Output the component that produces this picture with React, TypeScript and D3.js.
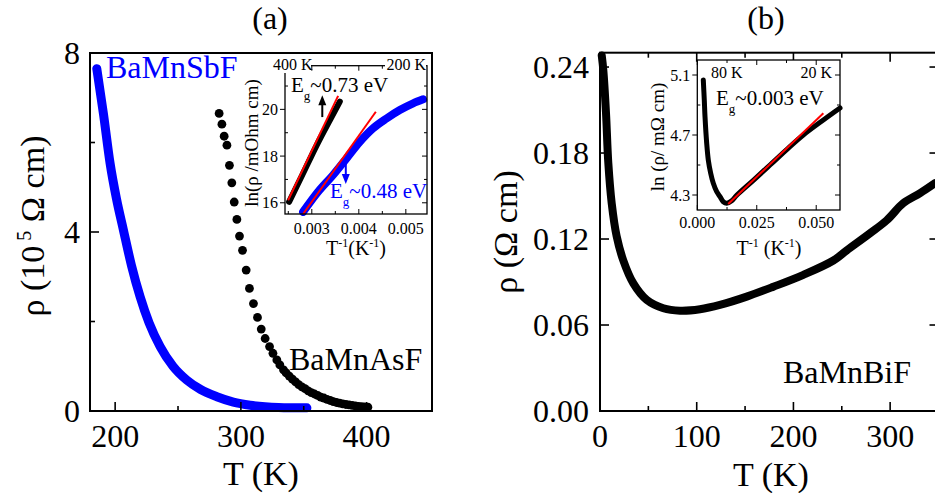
import React from 'react';
import * as d3 from 'd3';

// ---------- data ----------
// Panel (a) main: BaMnSbF (continuous, blue)
const sbfT = [185.4, 190.7, 196, 201, 206.6, 213, 219.9, 227, 235.8, 246, 257, 268, 280.9, 294, 307.4, 330, 352.5];
const sbfRho = [7.65, 6.64, 5.53, 4.75, 4.04, 3.25, 2.55, 1.97, 1.44, 1.0, 0.69, 0.48, 0.32, 0.2, 0.13, 0.08, 0.07];

// Panel (a) main: BaMnAsF (dots, black)
const asfT = [282.7, 284.9, 286.7, 288.9, 290.9, 292.8, 294.7, 296.8, 298.9, 301.3, 304.2, 306.8, 310, 313.2, 316.2, 319.3, 322.8, 325.5, 328.6, 331, 333.9, 336, 338.5, 341, 343.5, 346, 348.5, 351, 353.5, 356, 358.5, 361, 363.5, 366, 368.5, 371, 373.5, 376, 378.5, 381, 383.5, 386, 388.5, 391, 393.5, 396, 398.5, 401];
const asfRho = [6.65, 6.41, 6.14, 5.94, 5.49, 5.1, 4.67, 4.28, 3.91, 3.59, 3.15, 2.74, 2.4, 2.09, 1.83, 1.62, 1.44, 1.29, 1.14, 1.03, 0.92, 0.85, 0.78, 0.71, 0.65, 0.59, 0.54, 0.5, 0.45, 0.41, 0.38, 0.35, 0.31, 0.29, 0.26, 0.235, 0.21, 0.19, 0.175, 0.16, 0.145, 0.135, 0.125, 0.115, 0.105, 0.1, 0.09, 0.085];

// Inset (a)
const insAsfX = [0.002517, 0.0028, 0.0031, 0.0034, 0.003596];
const insAsfY = [16.04, 17.2, 18.45, 19.6, 20.33];
const insAsfFitX = [0.002496, 0.00356];
const insAsfFitY = [16.11, 20.58];
const insSbfX = [0.002815, 0.003134, 0.003453, 0.003738, 0.004021, 0.004304, 0.004589, 0.004872, 0.005155, 0.005368];
const insSbfY = [15.61, 16.47, 17.19, 17.9, 18.61, 19.19, 19.61, 19.97, 20.26, 20.43];
const insSbfFitX = [0.002815, 0.004362];
const insSbfFitY = [15.52, 19.9];

// Panel (b) main: BaMnBiF
const bifT = [1.8, 3.4, 6.2, 8.6, 12.1, 17.2, 24.1, 34.5, 48.3, 65.5, 82.7, 103.4, 124, 151.7, 179.3, 210.3, 241.3, 255, 279.2, 296.4, 313.6, 331, 346.5];
const bifRho = [0.248, 0.238, 0.208, 0.173, 0.145, 0.122, 0.105, 0.089, 0.0775, 0.0717, 0.07, 0.071, 0.074, 0.0798, 0.0867, 0.095, 0.105, 0.112, 0.124, 0.133, 0.145, 0.152, 0.159];

// Inset (b)
const insBifX = [0.00252, 0.00294, 0.00324, 0.00395, 0.00463, 0.00563, 0.00673, 0.00816, 0.00955, 0.01093, 0.01236, 0.01447, 0.01657, 0.02355, 0.03057, 0.03759, 0.04457, 0.05299, 0.06];
const insBifY = [5.067, 4.933, 4.822, 4.645, 4.533, 4.445, 4.378, 4.322, 4.289, 4.255, 4.245, 4.262, 4.298, 4.398, 4.5, 4.603, 4.7, 4.8, 4.88];
const insBifFitX = [0.013, 0.053];
const insBifFitY = [4.24, 4.845];

// ticks
const aXTicks = [200, 300, 400];
const aXMinor = [250, 350];
const aYTicks = [0, 4, 8];
const aYMinor = [2, 6];
const bXTicks = [0, 100, 200, 300];
const bXMinor = [50, 150, 250];
const bYTicks = [0, 0.06, 0.12, 0.18, 0.24];
const iaXTicks = [0.003, 0.004, 0.005];
const iaXMinor = [0.0025, 0.0035, 0.0045];
const iaYTicks = [16, 18, 20];
const iaYMinor = [17, 19, 21];
const ibXTicks = [0, 0.025, 0.05];
const ibXMinor = [0.0125, 0.0375];
const ibYTicks = [4.3, 4.7, 5.1];
const ibYMinor = [4.5, 4.9];

const FONT = "'Liberation Serif', 'Times New Roman', serif";
const BLUE = '#0000ff';
const RED = '#ff0000';
const BIG = 32;

function zip(xs: number[], ys: number[]): [number, number][] {
  return xs.map((x, i) => [x, ys[i]]);
}

export default function App() {
  const ax = d3.scaleLinear().domain([180, 452]).range([90, 432]);
  const ay = d3.scaleLinear().domain([0, 8]).range([411, 53]);
  const bx = d3.scaleLinear().domain([0, 350]).range([600, 938.5]);
  const by = d3.scaleLinear().domain([0, 0.25]).range([411, 52.7]);
  const iax = d3.scaleLinear().domain([0.00243, 0.00545]).range([285, 427]);
  const iay = d3.scaleLinear().domain([15.52, 21.87]).range([214, 65.7]);
  const ibx = d3.scaleLinear().domain([0, 0.06]).range([697.3, 840]);
  const iby = d3.scaleLinear().domain([4.2, 5.2]).range([210, 60]);

  const lineOf = (sx: any, sy: any) =>
    d3.line<[number, number]>().x(d => sx(d[0])).y(d => sy(d[1])).curve(d3.curveMonotoneX);
  const lineStraight = (sx: any, sy: any) =>
    d3.line<[number, number]>().x(d => sx(d[0])).y(d => sy(d[1]));

  const sbfPath = lineOf(ax, ay)(zip(sbfT, sbfRho)) || '';
  const bifPath = d3.line<[number, number]>().x(d => bx(d[0])).y(d => by(d[1])).curve(d3.curveCatmullRom)(zip(bifT, bifRho)) || '';
  const iaAsf = lineOf(iax, iay)(zip(insAsfX, insAsfY)) || '';
  const iaAsfFit = lineStraight(iax, iay)(zip(insAsfFitX, insAsfFitY)) || '';
  const iaSbf = lineOf(iax, iay)(zip(insSbfX, insSbfY)) || '';
  const iaSbfFit = lineStraight(iax, iay)(zip(insSbfFitX, insSbfFitY)) || '';
  const ibBif = d3.line<[number, number]>().x(d => ibx(d[0])).y(d => iby(d[1])).curve(d3.curveCatmullRom)(zip(insBifX, insBifY)) || '';
  const ibBifFit = lineStraight(ibx, iby)(zip(insBifFitX, insBifFitY)) || '';

  const [ax0, ax1] = ax.range();
  const [ay0, ay1] = ay.range();
  const [bx0, bx1] = bx.range();
  const [by0, by1] = by.range();
  const [iax0, iax1] = iax.range();
  const [iay0, iay1] = iay.range();
  const [ibx0, ibx1] = ibx.range();
  const [iby0, iby1] = iby.range();

  const arrow = (x: number, y0: number, y1: number, color: string, key: string) => {
    const dir = y1 < y0 ? -1 : 1;
    const head = 10;
    return (
      <g key={key}>
        <line x1={x} y1={y0} x2={x} y2={y1 - dir * head * 0.6} stroke={color} strokeWidth={2} />
        <polygon points={`${x - 4},${y1 - dir * head} ${x},${y1} ${x + 4},${y1 - dir * head}`} fill={color} />
      </g>
    );
  };

  return (
    <svg width={935} height={493} style={{ position: 'absolute', left: 0, top: 0, background: '#fff', fontFamily: FONT }} fontFamily={FONT}>
      <rect x={0} y={0} width={935} height={493} fill="#fff" />

      {/* ================= PANEL (a) ================= */}
      <text x={270} y={29} fontSize={32} textAnchor="middle">(a)</text>
      <path d={sbfPath} fill="none" stroke={BLUE} strokeWidth={9} strokeLinecap="round" strokeLinejoin="round" />
      {asfT.map((t, i) => (
        <circle key={'as' + i} cx={ax(t)} cy={ay(asfRho[i])} r={4.4} fill="#000" />
      ))}
      <rect x={ax0} y={ay1} width={ax1 - ax0} height={ay0 - ay1} fill="none" stroke="#000" strokeWidth={2} />
      {aXTicks.map(t => (
        <g key={'axt' + t}>
          <line x1={ax(t)} x2={ax(t)} y1={ay0} y2={ay0 - 9} stroke="#000" strokeWidth={1.6} />
          <text x={ax(t)} y={447} fontSize={BIG} textAnchor="middle">{t}</text>
        </g>
      ))}
      {aXMinor.map(t => (
        <line key={'axm' + t} x1={ax(t)} x2={ax(t)} y1={ay0} y2={ay0 - 5} stroke="#000" strokeWidth={1.6} />
      ))}
      {aYTicks.map(t => (
        <g key={'ayt' + t}>
          <line x1={ax0} x2={ax0 + 9} y1={ay(t)} y2={ay(t)} stroke="#000" strokeWidth={1.6} />
          <text x={80} y={ay(t)} dy="0.35em" fontSize={BIG} textAnchor="end">{t}</text>
        </g>
      ))}
      {aYMinor.map(t => (
        <line key={'aym' + t} x1={ax0} x2={ax0 + 5} y1={ay(t)} y2={ay(t)} stroke="#000" strokeWidth={1.6} />
      ))}
      <text x={261} y={485} fontSize={34} textAnchor="middle">T (K)</text>
      <text transform="translate(44,226) rotate(-90)" fontSize={34} textAnchor="middle">
        <tspan>ρ (10</tspan>
        <tspan dy={-13} fontSize={20}> 5</tspan>
        <tspan dy={13}> Ω cm)</tspan>
      </text>
      <text x={106} y={78} fontSize={BIG} fill={BLUE}>BaMnSbF</text>
      <text x={289} y={370} fontSize={BIG} fill="#000">BaMnAsF</text>

      {/* ---------- inset (a) ---------- */}
      <path d={iaSbf} fill="none" stroke={BLUE} strokeWidth={8} strokeLinecap="round" />
      <path d={iaSbfFit} fill="none" stroke={RED} strokeWidth={2} />
      <path d={iaAsf} fill="none" stroke="#000" strokeWidth={6} strokeLinecap="round" />
      <path d={iaAsfFit} fill="none" stroke={RED} strokeWidth={2} />
      <rect x={iax0} y={iay1} width={iax1 - iax0} height={iay0 - iay1} fill="none" stroke="#000" strokeWidth={1.3} />
      {iaXTicks.map(t => (
        <g key={'iaxt' + t}>
          <line x1={iax(t)} x2={iax(t)} y1={iay0} y2={iay0 - 5} stroke="#000" strokeWidth={1} />
          <line x1={iax(t)} x2={iax(t)} y1={iay1} y2={iay1 + 5} stroke="#000" strokeWidth={1} />
          <text x={iax(t)} y={iay0 + 20} fontSize={16} textAnchor="middle">{d3.format('.3f')(t)}</text>
        </g>
      ))}
      {iaXMinor.map(t => (
        <g key={'iaxm' + t}>
          <line x1={iax(t)} x2={iax(t)} y1={iay0} y2={iay0 - 3} stroke="#000" strokeWidth={1} />
          <line x1={iax(t)} x2={iax(t)} y1={iay1} y2={iay1 + 3} stroke="#000" strokeWidth={1} />
        </g>
      ))}
      {iaYTicks.map(t => (
        <g key={'iayt' + t}>
          <line x1={iax0 - 5} x2={iax0} y1={iay(t)} y2={iay(t)} stroke="#000" strokeWidth={1} />
          <line x1={iax1 - 5} x2={iax1} y1={iay(t)} y2={iay(t)} stroke="#000" strokeWidth={1} />
          <text x={iax0 - 7} y={iay(t)} dy="0.35em" fontSize={16} textAnchor="end">{t}</text>
        </g>
      ))}
      {iaYMinor.map(t => (
        <g key={'iaym' + t}>
          <line x1={iax0} x2={iax0 + 3} y1={iay(t)} y2={iay(t)} stroke="#000" strokeWidth={1} />
          <line x1={iax1 - 3} x2={iax1} y1={iay(t)} y2={iay(t)} stroke="#000" strokeWidth={1} />
        </g>
      ))}
      <rect x={270} y={56} width={41} height={17} fill="#fff" />
      <rect x={385} y={56} width={41} height={17} fill="#fff" />
      <text x={273} y={70} fontSize={16}>400 K</text>
      <text x={426} y={70} fontSize={16} textAnchor="end">200 K</text>
      <text x={291} y={92} fontSize={21}>
        <tspan>E</tspan>
        <tspan dy={8} fontSize={13}>g</tspan>
        <tspan dy={-8}>~0.73 eV</tspan>
      </text>
      <text x={330} y={198} fontSize={21} fill={BLUE}>
        <tspan>E</tspan>
        <tspan dy={8} fontSize={13}>g</tspan>
        <tspan dy={-8}>~0.48 eV</tspan>
      </text>
      {arrow(iax(0.003223), iay(19.67), iay(20.61), '#000', 'arA')}
      {arrow(iax(0.003723), iay(17.91), iay(16.8), BLUE, 'arB')}
      <text x={356} y={255} fontSize={20} textAnchor="middle">
        <tspan>T</tspan>
        <tspan dy={-8} fontSize={12}>-1</tspan>
        <tspan dy={8}>(K</tspan>
        <tspan dy={-8} fontSize={12}>-1</tspan>
        <tspan dy={8}>)</tspan>
      </text>
      <text transform="translate(258,143) rotate(-90)" fontSize={19} textAnchor="middle">ln(ρ /mOhm cm)</text>

      {/* ================= PANEL (b) ================= */}
      <text x={766} y={29} fontSize={32} textAnchor="middle">(b)</text>
      <path d={bifPath} fill="none" stroke="#000" strokeWidth={8} strokeLinecap="round" strokeLinejoin="round" />
      <rect x={bx0} y={by1} width={bx1 - bx0} height={by0 - by1} fill="none" stroke="#000" strokeWidth={2} />
      {bXTicks.map(t => (
        <g key={'bxt' + t}>
          <line x1={bx(t)} x2={bx(t)} y1={by0} y2={by0 - 9} stroke="#000" strokeWidth={1.6} />
          <line x1={bx(t)} x2={bx(t)} y1={by1} y2={by1 + 9} stroke="#000" strokeWidth={1.6} />
          <text x={bx(t)} y={447} fontSize={BIG} textAnchor="middle">{t}</text>
        </g>
      ))}
      {bXMinor.map(t => (
        <g key={'bxm' + t}>
          <line x1={bx(t)} x2={bx(t)} y1={by0} y2={by0 - 5} stroke="#000" strokeWidth={1.6} />
          <line x1={bx(t)} x2={bx(t)} y1={by1} y2={by1 + 5} stroke="#000" strokeWidth={1.6} />
        </g>
      ))}
      {bYTicks.map(t => (
        <g key={'byt' + t}>
          <line x1={bx0} x2={bx0 + 9} y1={by(t)} y2={by(t)} stroke="#000" strokeWidth={1.6} />
          <line x1={bx1 - 9} x2={bx1} y1={by(t)} y2={by(t)} stroke="#000" strokeWidth={1.6} />
          <text x={589} y={by(t)} dy="0.35em" fontSize={BIG} textAnchor="end">{d3.format('.2f')(t)}</text>
        </g>
      ))}
      <text x={771} y={486} fontSize={34} textAnchor="middle">T (K)</text>
      <text transform="translate(517,232) rotate(-90)" fontSize={34} textAnchor="middle">ρ (Ω cm)</text>
      <text x={783} y={383} fontSize={BIG}>BaMnBiF</text>

      {/* ---------- inset (b) ---------- */}
      <rect x={ibx0} y={iby1} width={ibx1 - ibx0} height={iby0 - iby1} fill="#fff" stroke="none" />
      <path d={ibBif} fill="none" stroke="#000" strokeWidth={5} strokeLinecap="round" />
      <path d={ibBifFit} fill="none" stroke={RED} strokeWidth={2} />
      <rect x={ibx0} y={iby1} width={ibx1 - ibx0} height={iby0 - iby1} fill="none" stroke="#000" strokeWidth={1.3} />
      {ibXTicks.map(t => (
        <g key={'ibxt' + t}>
          <line x1={ibx(t)} x2={ibx(t)} y1={iby0} y2={iby0 - 5} stroke="#000" strokeWidth={1} />
          <line x1={ibx(t)} x2={ibx(t)} y1={iby1} y2={iby1 + 5} stroke="#000" strokeWidth={1} />
          <text x={ibx(t)} y={iby0 + 18} fontSize={16} textAnchor="middle">{d3.format('.3f')(t)}</text>
        </g>
      ))}
      {ibXMinor.map(t => (
        <g key={'ibxm' + t}>
          <line x1={ibx(t)} x2={ibx(t)} y1={iby0} y2={iby0 - 3} stroke="#000" strokeWidth={1} />
          <line x1={ibx(t)} x2={ibx(t)} y1={iby1} y2={iby1 + 3} stroke="#000" strokeWidth={1} />
        </g>
      ))}
      {ibYTicks.map(t => (
        <g key={'ibyt' + t}>
          <line x1={ibx0 - 5} x2={ibx0} y1={iby(t)} y2={iby(t)} stroke="#000" strokeWidth={1} />
          <line x1={ibx1 - 5} x2={ibx1} y1={iby(t)} y2={iby(t)} stroke="#000" strokeWidth={1} />
          <text x={ibx0 - 7} y={iby(t)} dy="0.35em" fontSize={16} textAnchor="end">{d3.format('.1f')(t)}</text>
        </g>
      ))}
      {ibYMinor.map(t => (
        <g key={'ibym' + t}>
          <line x1={ibx0} x2={ibx0 + 3} y1={iby(t)} y2={iby(t)} stroke="#000" strokeWidth={1} />
          <line x1={ibx1 - 3} x2={ibx1} y1={iby(t)} y2={iby(t)} stroke="#000" strokeWidth={1} />
        </g>
      ))}
      <text x={711} y={78} fontSize={16}>80 K</text>
      <text x={832} y={78} fontSize={16} textAnchor="end">20 K</text>
      <text x={716} y={105} fontSize={21}>
        <tspan>E</tspan>
        <tspan dy={8} fontSize={13}>g</tspan>
        <tspan dy={-8}>~0.003 eV</tspan>
      </text>
      <text x={769} y={255} fontSize={20} textAnchor="middle">
        <tspan>T</tspan>
        <tspan dy={-8} fontSize={12}>-1</tspan>
        <tspan dy={8}> (K</tspan>
        <tspan dy={-8} fontSize={12}>-1</tspan>
        <tspan dy={8}>)</tspan>
      </text>
      <text transform="translate(664,137) rotate(-90)" fontSize={19} textAnchor="middle">ln (ρ/ mΩ cm)</text>
    </svg>
  );
}
